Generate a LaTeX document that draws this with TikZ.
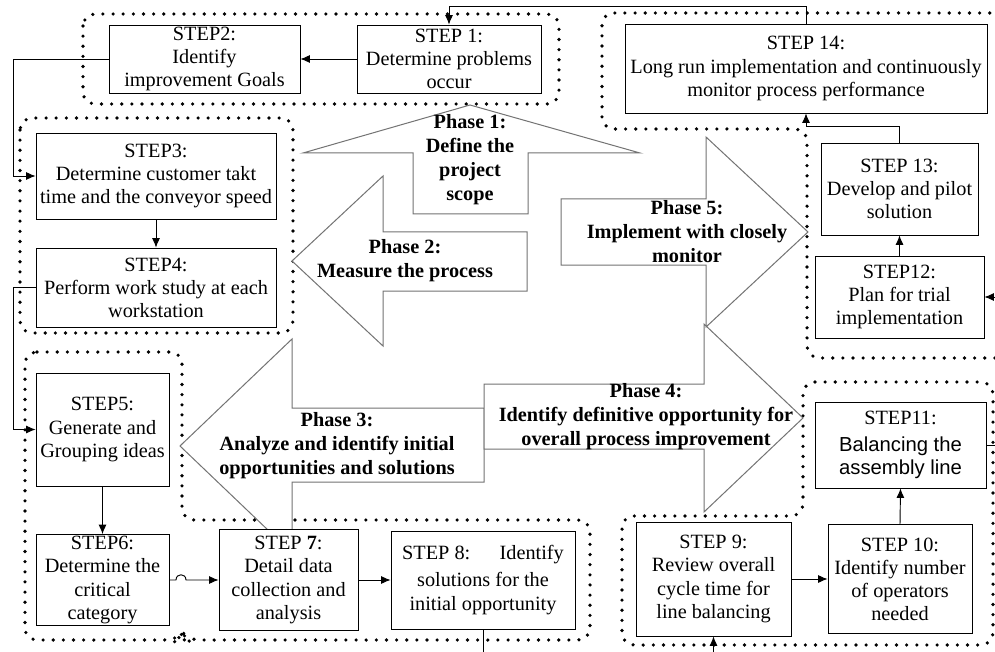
\documentclass[tikz,border=0pt]{standalone}
\usepackage{fontspec}
\setmainfont{Liberation Serif}
\newfontfamily\arialfont{Liberation Sans}
\usetikzlibrary{arrows.meta}

\begin{document}
\begin{tikzpicture}[x=0.75pt, y=-0.75pt,
  sz/.style 2 args={minimum width=#1*0.75pt, minimum height=#2*0.75pt},
  stepbox/.style={draw, fill=white, line width=0.7pt, align=center, inner sep=0pt,
    font=\fontsize{15.2pt}{17.3pt}\selectfont},
  phasearrow/.style={draw=black!55, fill=white, line width=0.75pt},
  phaselabel/.style={align=center, inner sep=0pt,
    font=\bfseries\fontsize{15.2pt}{18pt}\selectfont},
  dotgroup/.style={line width=2.7pt, line cap=round, dash pattern=on 0pt off 7.6pt,
    rounded corners=9pt},
  conn/.style={line width=0.7pt, -{Latex[length=7pt,width=6pt]}}
]
\useasboundingbox (0,0) rectangle (995,652);
\fill[white] (0,0) rectangle (995,652);
\clip (0,0) rectangle (995,652);

% routing coordinates for the outer connectors
\coordinate (lx) at (13,0);
\coordinate (rx) at (1004,0);

% ---------- dotted phase groups ----------
% phase 1
\draw[dotgroup] (83,14) rectangle (559,104);
% phase 2
\draw[dotgroup] (20,118) rectangle (293,333);
% phase 3
\draw[dotgroup] (25,352) -- (182,352) -- (182,520) -- (590,520) -- (590,640)
  -- (188,640) -- (182,635) -- (176,640) -- (25,640) -- cycle;
% phase 4
\draw[dotgroup] (803,382) -- (993,382) -- (993,645) -- (622,645) -- (622,516)
  -- (803,516) -- cycle;
% phase 5
\draw[dotgroup] (1010,13) -- (602,13) -- (602,129) -- (807,129) -- (807,358)
  -- (1010,358);

% ---------- phase arrows ----------
\draw[phasearrow] (413,214) -- (413,153) -- (303,153) -- (470,105) -- (640,153)
  -- (528,153) -- (528,214) -- cycle;
\draw[phasearrow] (527,232) -- (383,232) -- (383,176) -- (292,261) -- (383,346)
  -- (383,291) -- (527,291) -- cycle;
\draw[phasearrow] (484,408) -- (292,408) -- (292,339) -- (180,446) -- (292,553)
  -- (292,482) -- (484,482) -- cycle;
\draw[phasearrow] (484,384) -- (704,384) -- (704,324) -- (803,418) -- (704,512)
  -- (704,449) -- (484,449) -- cycle;
\draw[phasearrow] (561,199) -- (706,199) -- (706,137) -- (808,232) -- (706,327)
  -- (706,265) -- (561,265) -- cycle;

\node[phaselabel] (ph1) at (470,160) {Phase 1:\\Define the\\project\\scope};
\node[phaselabel] (ph2) at (405,261) {Phase 2:\\Measure the process};
\node[phaselabel] (ph3) at (337,446) {Phase 3:\\Analyze and identify initial\\opportunities and solutions};
\node[phaselabel] (ph4) at (646,417) {Phase 4:\\Identify definitive opportunity for\\overall process improvement};
\node[phaselabel] (ph5) at (687,232) {Phase 5:\\Implement with closely\\monitor};

% ---------- steps ----------
\node[stepbox, sz={184}{68}] (s1) at (449,59) {STEP 1:\\Determine problems\\occur};
\node[stepbox, sz={191}{68}] (s2) at (204.5,59) {STEP2:\\Identify\\improvement Goals};
\node[stepbox, sz={240}{86}] (s3) at (156,176) {STEP3:\\Determine customer takt\\time and the conveyor speed};
\node[stepbox, sz={240}{79}] (s4) at (156,287.5) {STEP4:\\Perform work study at each\\workstation};
\node[stepbox, sz={133}{113}] (s5) at (102.5,429.5) {STEP5:\\Generate and\\Grouping ideas};
\node[stepbox, sz={133}{91}] (s6) at (102.5,580) {STEP6:\\Determine the\\critical\\category};
\node[stepbox, sz={139}{101}] (s7) at (288.5,580) {STEP \textbf{7}:\\Detail data\\collection and\\analysis};
\node[stepbox, sz={184}{98}] (s8) at (483,580) {STEP 8:\hspace{22pt}Identify\\[3pt]solutions for the\\initial opportunity};
\node[stepbox, sz={155}{114}] (s9) at (713.5,579) {STEP 9:\\Review overall\\cycle time for\\line balancing};
\node[stepbox, sz={144}{109}] (s10) at (900,579) {STEP 10:\\Identify number\\of operators\\needed};
\node[stepbox, sz={171}{86}] (s11) at (900.5,445) {STEP11:\\[3pt]{\arialfont Balancing the}\\{\arialfont assembly line}};
\node[stepbox, sz={169}{82}] (s12) at (899.5,297) {STEP12:\\Plan for trial\\implementation};
\node[stepbox, sz={157}{92}] (s13) at (899.5,189) {STEP 13:\\Develop and pilot\\solution};
\node[stepbox, sz={362}{89}] (s14) at (806,68.5) {STEP 14:\\Long run implementation and continuously\\monitor process performance};

% ---------- connectors ----------
\draw[conn] (s1.west) -- (s2.east);
\draw[conn] (s2.west) -- (s2.west -| lx) |- (s3.west);
\draw[conn] (s3.south) -- (s4.north);
\draw[conn] (s4.west) -- (s4.west -| lx) |- (s5.west);
\draw[conn] (s5.south) -- (s6.north);
\draw[conn] (s6.east) -- (176,580) .. controls (176,573) and (186,573) .. (186,580) -- (s7.west);
\draw[conn] (s7.east) -- (s8.west);
\draw[conn] (s8.south) -- ++(0,40) -| (s9.south);
\draw[conn] (s9.east) -- (s10.west);
\draw[conn] (s10.north) -- (s11.south);
\draw[conn] (s11.east) -- (s11.east -| rx) |- (s12.east);
\draw[conn] (s12.north) -- (s13.south);
\draw[conn] (s13.north) -- ++(0,-16) -| (s14.south);
\draw[conn] (s14.north) -- ++(0,-17) -| (s1.north);
\end{tikzpicture}
\end{document}
